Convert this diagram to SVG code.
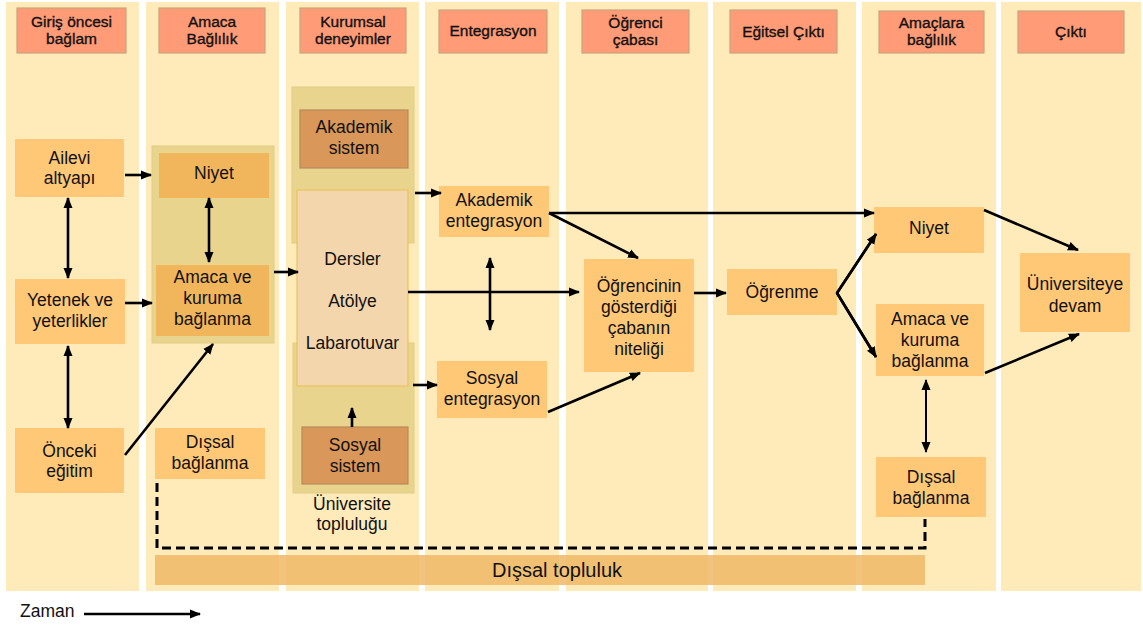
<svg xmlns="http://www.w3.org/2000/svg" width="1143" height="625" viewBox="0 0 1143 625">
  <style>
    .col { fill: #FEEBB9; }
    .hdr { fill: #FF9B76; stroke: #C9A47E; stroke-width: 1.2; }
    .ht { font-family: "Liberation Sans", Arial, sans-serif; font-size: 15.5px; fill: #111; stroke: #111; stroke-width: 0.35; text-anchor: middle; }
    .nt { font-family: "Liberation Sans", Arial, sans-serif; font-size: 17.5px; fill: #111; text-anchor: middle; }
    .node { fill: #FFC877; }
    .inner { fill: #F1B65B; }
    .cont { fill: #E9D48E; stroke: #E2CC86; stroke-width: 1; }
    .sys { fill: #D99759; stroke: #B88A5C; stroke-width: 1.2; }
    .core { fill: #F3D6AB; stroke: #EAC45E; stroke-width: 1.2; }
    .ln { stroke: #000; stroke-width: 2.6; fill: none; }
    .dash { stroke: #000; stroke-width: 3; fill: none; stroke-dasharray: 9 5; }
  </style>
  <defs>
    <marker id="ah" markerUnits="userSpaceOnUse" markerWidth="12" markerHeight="12" viewBox="0 0 12 12" refX="10" refY="6" orient="auto-start-reverse">
      <path d="M0,1.5 L11,6 L0,10.5 Z" fill="#000"/>
    </marker>
  </defs>

  <rect width="1143" height="625" fill="#FFFFFF"/>

  <!-- stage columns -->
  <g id="columns">
    <rect class="col" x="6" y="2" width="133" height="589"/>
    <rect class="col" x="146" y="2" width="133" height="589"/>
    <rect class="col" x="286" y="2" width="133" height="589"/>
    <rect class="col" x="425" y="2" width="134" height="589"/>
    <rect class="col" x="566" y="2" width="142" height="589"/>
    <rect class="col" x="713" y="2" width="143" height="589"/>
    <rect class="col" x="862" y="2" width="134" height="589"/>
    <rect class="col" x="1001" y="2" width="140" height="589"/>
  </g>

  <!-- column headers -->
  <g id="headers">
    <g id="h1"><rect class="hdr" x="17" y="8" width="109" height="45"/><text class="ht" x="71.5" y="27">Giriş öncesi</text><text class="ht" x="71.5" y="44">bağlam</text></g>
    <g id="h2"><rect class="hdr" x="159" y="8" width="106" height="45"/><text class="ht" x="212" y="27">Amaca</text><text class="ht" x="212" y="44">Bağlılık</text></g>
    <g id="h3"><rect class="hdr" x="300" y="8" width="106" height="45"/><text class="ht" x="353" y="27">Kurumsal</text><text class="ht" x="353" y="44">deneyimler</text></g>
    <g id="h4"><rect class="hdr" x="439" y="10" width="108" height="43"/><text class="ht" x="493" y="36">Entegrasyon</text></g>
    <g id="h5"><rect class="hdr" x="582" y="10" width="107" height="43"/><text class="ht" x="635.5" y="28">Öğrenci</text><text class="ht" x="635.5" y="45">çabası</text></g>
    <g id="h6"><rect class="hdr" x="730" y="10" width="107" height="43"/><text class="ht" x="783.5" y="37">Eğitsel Çıktı</text></g>
    <g id="h7"><rect class="hdr" x="879" y="11" width="105" height="42"/><text class="ht" x="931.5" y="28">Amaçlara</text><text class="ht" x="931.5" y="45">bağlılık</text></g>
    <g id="h8"><rect class="hdr" x="1018" y="11" width="106" height="42"/><text class="ht" x="1071" y="37">Çıktı</text></g>
  </g>

  <!-- external community band -->
  <g id="disal-topluluk">
    <rect x="155" y="555" width="770" height="30" fill="#EFB966" fill-opacity="0.85"/>
    <text class="nt" x="557" y="577" style="font-size:20px">Dışsal topluluk</text>
  </g>

  <!-- pre-entry context -->
  <g id="ailevi">
    <rect class="node" x="15" y="139" width="109" height="58"/>
    <text class="nt" x="69.5" y="164">Ailevi</text><text class="nt" x="69.5" y="184">altyapı</text>
  </g>
  <g id="yetenek">
    <rect class="node" x="15" y="279" width="110" height="65"/>
    <text class="nt" x="70" y="306">Yetenek ve</text><text class="nt" x="70" y="327">yeterlikler</text>
  </g>
  <g id="onceki">
    <rect class="node" x="15" y="428" width="109" height="65"/>
    <text class="nt" x="69.5" y="457">Önceki</text><text class="nt" x="69.5" y="477">eğitim</text>
  </g>

  <!-- goal commitment -->
  <g id="amaca-baglilik">
    <rect class="cont" x="152" y="146" width="122" height="197"/>
    <g id="niyet1">
      <rect class="inner" x="159" y="153" width="110" height="45"/>
      <text class="nt" x="214" y="179">Niyet</text>
    </g>
    <g id="amaca1">
      <rect class="inner" x="156" y="265" width="113" height="71"/>
      <text class="nt" x="212.5" y="283">Amaca ve</text><text class="nt" x="212.5" y="304">kuruma</text><text class="nt" x="212.5" y="325">bağlanma</text>
    </g>
  </g>
  <g id="dissal1">
    <rect class="node" x="155" y="428" width="110" height="51"/>
    <text class="nt" x="210" y="448">Dışsal</text><text class="nt" x="210" y="469">bağlanma</text>
  </g>

  <!-- institutional experiences -->
  <g id="kurumsal">
    <rect class="cont" x="292" y="87" width="122" height="156"/>
    <rect class="cont" x="293" y="343" width="121" height="150"/>
    <g id="dersler">
      <rect class="core" x="297" y="190" width="111" height="196"/>
      <text class="nt" x="352.5" y="265">Dersler</text>
      <text class="nt" x="352.5" y="307">Atölye</text>
      <text class="nt" x="352.5" y="349">Labarotuvar</text>
    </g>
    <g id="akademik-sistem">
      <rect class="sys" x="300" y="110" width="108" height="58"/>
      <text class="nt" x="354" y="133">Akademik</text><text class="nt" x="354" y="154">sistem</text>
    </g>
    <g id="sosyal-sistem">
      <rect class="sys" x="302" y="427" width="106" height="57"/>
      <text class="nt" x="355" y="451">Sosyal</text><text class="nt" x="355" y="472">sistem</text>
    </g>
    <text class="nt" x="352" y="510">Üniversite</text>
    <text class="nt" x="352" y="530">topluluğu</text>
  </g>

  <!-- integration -->
  <g id="akademik-ent">
    <rect class="node" x="439" y="186" width="110" height="51"/>
    <text class="nt" x="494" y="206">Akademik</text><text class="nt" x="494" y="227">entegrasyon</text>
  </g>
  <g id="sosyal-ent">
    <rect class="node" x="437" y="361" width="110" height="57"/>
    <text class="nt" x="492" y="384">Sosyal</text><text class="nt" x="492" y="405">entegrasyon</text>
  </g>

  <!-- student effort -->
  <g id="caba">
    <rect class="node" x="584" y="259" width="110" height="113"/>
    <text class="nt" x="639" y="292">Öğrencinin</text>
    <text class="nt" x="639" y="313">gösterdiği</text>
    <text class="nt" x="639" y="334">çabanın</text>
    <text class="nt" x="639" y="355">niteliği</text>
  </g>

  <!-- educational outcome -->
  <g id="ogrenme">
    <rect class="node" x="727" y="269" width="110" height="46"/>
    <text class="nt" x="782" y="298">Öğrenme</text>
  </g>

  <!-- goal commitment after -->
  <g id="niyet2">
    <rect class="node" x="874" y="207" width="110" height="46"/>
    <text class="nt" x="929" y="234">Niyet</text>
  </g>
  <g id="amaca2">
    <rect class="node" x="876" y="304" width="108" height="72"/>
    <text class="nt" x="930" y="325">Amaca ve</text><text class="nt" x="930" y="346">kuruma</text><text class="nt" x="930" y="367">bağlanma</text>
  </g>
  <g id="dissal2">
    <rect class="node" x="876" y="457" width="110" height="60"/>
    <text class="nt" x="931" y="483">Dışsal</text><text class="nt" x="931" y="504">bağlanma</text>
  </g>

  <!-- outcome -->
  <g id="devam">
    <rect class="node" x="1020" y="253" width="110" height="79"/>
    <text class="nt" x="1075" y="290">Üniversiteye</text><text class="nt" x="1075" y="312">devam</text>
  </g>

  <!-- connectors -->
  <g id="connectors">
    <line class="ln" x1="125" y1="175" x2="151" y2="175" marker-end="url(#ah)"/>
    <line class="ln" x1="68" y1="198" x2="68" y2="278" marker-start="url(#ah)" marker-end="url(#ah)"/>
    <line class="ln" x1="68" y1="346" x2="68" y2="428" marker-start="url(#ah)" marker-end="url(#ah)"/>
    <line class="ln" x1="125" y1="303" x2="152" y2="303" marker-end="url(#ah)"/>
    <line class="ln" x1="125" y1="455" x2="213" y2="344" marker-end="url(#ah)"/>
    <line class="ln" x1="209" y1="198" x2="209" y2="262" marker-start="url(#ah)" marker-end="url(#ah)"/>
    <line class="ln" x1="274" y1="272" x2="298" y2="272" marker-end="url(#ah)"/>
    <line class="ln" x1="415" y1="193" x2="441" y2="193" marker-end="url(#ah)"/>
    <line class="ln" x1="408" y1="292" x2="579" y2="292" marker-end="url(#ah)"/>
    <line class="ln" x1="413" y1="385" x2="437" y2="385" marker-end="url(#ah)"/>
    <line class="ln" x1="352" y1="427" x2="352" y2="408" marker-end="url(#ah)"/>
    <line class="ln" x1="490" y1="258" x2="490" y2="330" marker-start="url(#ah)" marker-end="url(#ah)"/>
    <line class="ln" x1="549" y1="213" x2="638" y2="258" marker-end="url(#ah)"/>
    <line class="ln" x1="549" y1="213" x2="874" y2="213" marker-end="url(#ah)"/>
    <line class="ln" x1="548" y1="412" x2="640" y2="373" marker-end="url(#ah)"/>
    <line class="ln" x1="694" y1="293" x2="726" y2="293" marker-end="url(#ah)"/>
    <polyline class="ln" points="876,234 837,293 876,357"/>
    <line class="ln" x1="837" y1="293" x2="876" y2="234" marker-end="url(#ah)"/>
    <line class="ln" x1="837" y1="293" x2="876" y2="357" marker-end="url(#ah)"/>
    <line class="ln" x1="984" y1="210" x2="1078" y2="250" marker-end="url(#ah)"/>
    <line class="ln" x1="985" y1="373" x2="1079" y2="334" marker-end="url(#ah)"/>
    <line class="ln" x1="926" y1="452" x2="926" y2="380" marker-start="url(#ah)" marker-end="url(#ah)" style="stroke-width:2"/>
    <polyline class="dash" points="157,483 157,548 925,548 925,519"/>
    <line class="ln" x1="84" y1="614" x2="200" y2="614" marker-end="url(#ah)"/>
  </g>

  <text class="nt" x="20" y="617" style="text-anchor:start">Zaman</text>
</svg>
